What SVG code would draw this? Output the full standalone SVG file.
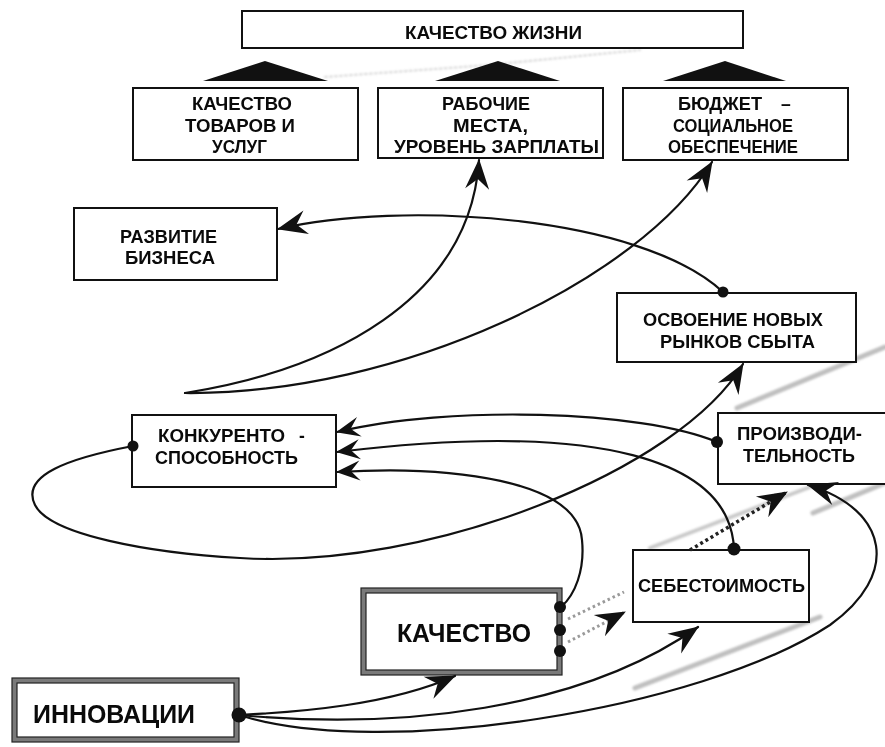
<svg xmlns="http://www.w3.org/2000/svg" width="885" height="747" viewBox="0 0 885 747">
  <style>
    .box { fill: #fff; stroke: #111; stroke-width: 2; }
    .band { fill: none; stroke: #7a7a7a; stroke-width: 5; }
    .edge { fill: none; stroke: #222; stroke-width: 1.2; }
    .t { font-family: "Liberation Sans", Arial, sans-serif; font-weight: 700; font-size: 17.5px; fill: #0a0a0a; }
    .big { font-size: 25px; }
    .ln { fill: none; stroke: #111; stroke-width: 2.2; stroke-linecap: round; }
    .dotdark { fill: none; stroke: #222; stroke-width: 3.5; stroke-dasharray: 3 3; }
    .dotgrey { fill: none; stroke: #9a9a9a; stroke-width: 3; stroke-dasharray: 2.5 3; }
    .dot { fill: #111; }
    .tri { fill: #111; }
    .streak { fill: none; stroke: #9c9c9c; stroke-linecap: round; }
  </style>
  <defs>
    <marker id="ah" viewBox="-32 -14 34 28" markerWidth="34" markerHeight="28" refX="0" refY="0" orient="auto" markerUnits="userSpaceOnUse">
      <path d="M1,0 L-29,-12 L-19,0 L-29,12 Z" fill="#111"/>
    </marker>
    <marker id="ahs" viewBox="-26 -12 28 24" markerWidth="28" markerHeight="24" refX="0" refY="0" orient="auto" markerUnits="userSpaceOnUse">
      <path d="M1,0 L-23,-10 L-14,0 L-23,10 Z" fill="#111"/>
    </marker>
    <filter id="soft" x="-10%" y="-10%" width="120%" height="120%">
      <feGaussianBlur stdDeviation="1"/>
    </filter>
  </defs>

  <rect width="885" height="747" fill="#fff"/>

  <!-- faint grey streaks -->
  <g id="streaks" filter="url(#soft)">
    <path class="streak" d="M325,77 L490,65 L640,50" stroke-width="2" stroke-dasharray="2 3" opacity="0.4"/>
    <path class="streak" d="M885,347 L737,408" stroke-width="5" opacity="0.65"/>
    <path class="streak" d="M650,548 L810,487" stroke-width="4" opacity="0.55"/>
    <path class="streak" d="M813,513 L885,483" stroke-width="5" opacity="0.65"/>
    <path class="streak" d="M820,617 L635,688" stroke-width="5" opacity="0.65"/>
  </g>

  <!-- top level -->
  <g id="life">
    <rect class="box" x="242" y="11" width="501" height="37"/>
    <text class="t" x="405" y="39" textLength="177" lengthAdjust="spacingAndGlyphs">КАЧЕСТВО ЖИЗНИ</text>
  </g>

  <g id="pointers">
    <polygon class="tri" points="203,81 265,61 328,81"/>
    <polygon class="tri" points="435,81 498,61 560,81"/>
    <polygon class="tri" points="663,81 725,61 786,81"/>
  </g>

  <g id="goods">
    <rect class="box" x="133" y="88" width="225" height="72"/>
    <text class="t" x="192" y="110" textLength="100" lengthAdjust="spacingAndGlyphs">КАЧЕСТВО</text>
    <text class="t" x="185" y="131.5" textLength="110" lengthAdjust="spacingAndGlyphs">ТОВАРОВ И</text>
    <text class="t" x="212" y="153" textLength="55" lengthAdjust="spacingAndGlyphs">УСЛУГ</text>
  </g>

  <g id="jobs">
    <rect class="box" x="378" y="88" width="225" height="70"/>
    <text class="t" x="442" y="110" textLength="88" lengthAdjust="spacingAndGlyphs">РАБОЧИЕ</text>
    <text class="t" x="453" y="131.5" textLength="75" lengthAdjust="spacingAndGlyphs">МЕСТА,</text>
    <text class="t" x="394" y="153" textLength="205" lengthAdjust="spacingAndGlyphs">УРОВЕНЬ ЗАРПЛАТЫ</text>
  </g>

  <g id="budget">
    <rect class="box" x="623" y="88" width="225" height="72"/>
    <text class="t" x="678" y="110"><tspan textLength="84" lengthAdjust="spacingAndGlyphs">БЮДЖЕТ</tspan> <tspan x="781">–</tspan></text>
    <text class="t" x="673" y="131.5" textLength="120" lengthAdjust="spacingAndGlyphs">СОЦИАЛЬНОЕ</text>
    <text class="t" x="668" y="153" textLength="130" lengthAdjust="spacingAndGlyphs">ОБЕСПЕЧЕНИЕ</text>
  </g>

  <g id="business">
    <rect class="box" x="74" y="208" width="203" height="72"/>
    <text class="t" x="120" y="243" textLength="97" lengthAdjust="spacingAndGlyphs">РАЗВИТИЕ</text>
    <text class="t" x="125" y="263.5" textLength="90" lengthAdjust="spacingAndGlyphs">БИЗНЕСА</text>
  </g>

  <g id="markets">
    <rect class="box" x="617" y="293" width="239" height="69"/>
    <text class="t" x="643" y="326" textLength="180" lengthAdjust="spacingAndGlyphs">ОСВОЕНИЕ НОВЫХ</text>
    <text class="t" x="660" y="348" textLength="155" lengthAdjust="spacingAndGlyphs">РЫНКОВ СБЫТА</text>
  </g>

  <g id="competitiveness">
    <rect class="box" x="132" y="415" width="204" height="72"/>
    <text class="t" x="158" y="442"><tspan textLength="127" lengthAdjust="spacingAndGlyphs">КОНКУРЕНТО</tspan> <tspan x="299">-</tspan></text>
    <text class="t" x="155" y="464" textLength="143" lengthAdjust="spacingAndGlyphs">СПОСОБНОСТЬ</text>
  </g>

  <g id="productivity">
    <rect class="box" x="718" y="413" width="180" height="71"/>
    <text class="t" x="737" y="440" textLength="125" lengthAdjust="spacingAndGlyphs">ПРОИЗВОДИ-</text>
    <text class="t" x="743" y="461.5" textLength="112" lengthAdjust="spacingAndGlyphs">ТЕЛЬНОСТЬ</text>
  </g>

  <g id="cost">
    <rect class="box" x="633" y="550" width="176" height="72"/>
    <text class="t" x="638" y="592" textLength="167" lengthAdjust="spacingAndGlyphs">СЕБЕСТОИМОСТЬ</text>
  </g>

  <g id="quality">
    <rect x="361" y="588" width="201" height="87" fill="#fff"/>
    <rect class="band" x="363.5" y="590.5" width="196" height="82"/>
    <rect class="edge" x="361" y="588" width="201" height="87"/>
    <rect class="edge" x="366" y="593" width="191" height="77"/>
    <text class="t big" x="397" y="642" textLength="134" lengthAdjust="spacingAndGlyphs">КАЧЕСТВО</text>
  </g>

  <g id="innovation">
    <rect x="12" y="678" width="227" height="64" fill="#fff"/>
    <rect class="band" x="14.5" y="680.5" width="222" height="59"/>
    <rect class="edge" x="12" y="678" width="227" height="64"/>
    <rect class="edge" x="17" y="683" width="217" height="54"/>
    <text class="t big" x="33" y="723" textLength="162" lengthAdjust="spacingAndGlyphs">ИННОВАЦИИ</text>
  </g>

  <!-- connectors -->
  <g id="connectors">
    <path class="ln" d="M723,292 C640,215 400,200 278,229" marker-end="url(#ah)"/>
    <path class="ln" d="M185,393 C330,370 470,300 479,160" marker-end="url(#ah)"/>
    <path class="ln" d="M185,393 C400,395 640,280 712,162" marker-end="url(#ah)"/>
    <path class="ln" d="M133,446 C70,458 20,475 35,505 C50,535 150,553 240,558 C430,570 680,470 743,364" marker-end="url(#ah)"/>
    <path class="ln" d="M717,442 C640,410 450,405 337,432" marker-end="url(#ahs)"/>
    <path class="ln" d="M734,549 C730,460 600,420 337,452" marker-end="url(#ahs)"/>
    <path class="ln" d="M561,607 C575,595 585,570 582,540 C578,480 450,465 337,472" marker-end="url(#ahs)"/>
    <path class="ln" d="M239,715 C300,712 390,705 455,676" marker-end="url(#ah)"/>
    <path class="ln" d="M239,715 C400,730 580,710 698,627" marker-end="url(#ah)"/>
    <path class="ln" d="M239,715 C380,760 700,710 830,625 C900,575 890,510 808,485" marker-end="url(#ah)"/>
    <path class="dotdark" d="M690,550 L787,492" marker-end="url(#ah)"/>
    <path class="dotgrey" d="M568,619 L624,592"/>
    <path class="dotgrey" d="M568,642 L625,612" marker-end="url(#ah)"/>

    <circle class="dot" cx="723" cy="292" r="5.5"/>
    <circle class="dot" cx="133" cy="446" r="5.5"/>
    <circle class="dot" cx="717" cy="442" r="6"/>
    <circle class="dot" cx="734" cy="549" r="6.5"/>
    <circle class="dot" cx="560" cy="607" r="6"/>
    <circle class="dot" cx="560" cy="630" r="6"/>
    <circle class="dot" cx="560" cy="651" r="6"/>
    <circle class="dot" cx="239" cy="715" r="7.5"/>
  </g>
</svg>
